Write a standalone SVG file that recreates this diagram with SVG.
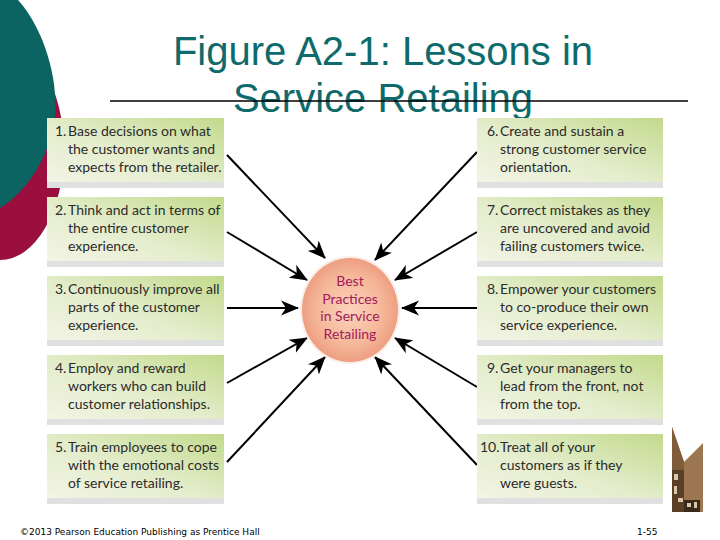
<svg xmlns="http://www.w3.org/2000/svg" width="720" height="540" viewBox="0 0 720 540">
<defs>
<linearGradient id="boxg" x1="0" y1="1" x2="1" y2="0">
<stop offset="0" stop-color="#f3f4e6"/>
<stop offset="0.45" stop-color="#e4edcc"/>
<stop offset="1" stop-color="#c2da8c"/>
</linearGradient>
<radialGradient id="ball" cx="0.5" cy="0.5" r="0.55">
<stop offset="0" stop-color="#fbd3bd"/>
<stop offset="0.6" stop-color="#f6b89a"/>
<stop offset="1" stop-color="#eb977a"/>
</radialGradient>
<marker id="ah" markerUnits="userSpaceOnUse" markerWidth="20" markerHeight="16" refX="17" refY="8" orient="auto">
<path d="M0,0.5 L18,8 L0,15.5 L5,8 Z" fill="#000"/>
</marker>
</defs>
<style>
.box{fill:url(#boxg)}
.shd{fill:#e0e0e0}
.t{font-family:Lato,"Open Sans","Liberation Sans",sans-serif;font-size:14px;fill:#2b2b2b}
.c{font-family:Lato,"Open Sans","Liberation Sans",sans-serif;font-size:14px;fill:#a3195b;text-anchor:middle}
.title{font-family:"Liberation Sans",Arial,sans-serif;font-size:40px;fill:#0f6b6b;text-anchor:middle}
.foot{font-family:"DejaVu Sans","Liberation Sans",sans-serif;font-size:9px;fill:#000}
.arr{stroke:#000;stroke-width:2;fill:none;marker-end:url(#ah)}
</style>
<rect width="720" height="540" fill="#fff"/>
<g id="decor">
<ellipse cx="0" cy="150" rx="64" ry="110" fill="#9a0f3e"/>
<path d="M0,0 L18,0 C45,30 58,80 55,115 C52,150 30,190 0,208 Z" fill="#0b6462"/>
</g>
<g id="title">
<text class="title" x="383" y="65">Figure A2-1: Lessons in</text>
<text class="title" x="383" y="112">Service Retailing</text>
<line x1="110" y1="101" x2="688" y2="101" stroke="#000" stroke-width="1.5"/>
</g>
<g id="crate">
<polygon points="672,427 684,462 703,443 703,512 672,512" fill="#9b7650"/>
<polygon points="672,427 684,462 684,512 672,512" fill="#7f5d3a"/>
<rect x="672" y="470" width="12" height="42" fill="#5a3f26"/>
<rect x="674" y="474" width="4" height="6" fill="#d9c8a8"/>
<rect x="674" y="486" width="3" height="8" fill="#d9c8a8"/>
<rect x="678" y="498" width="5" height="4" fill="#d9c8a8"/>
<rect x="684" y="500" width="16" height="12" fill="#3a2a1a"/>
<rect x="687" y="503" width="4" height="4" fill="#d9c8a8"/>
<rect x="694" y="502" width="3" height="6" fill="#d9c8a8"/>
</g>
<g id="connectors">
<line class="arr" x1="227" y1="155" x2="325" y2="258"/>
<line class="arr" x1="227" y1="232" x2="307" y2="280"/>
<line class="arr" x1="227" y1="308" x2="298" y2="308"/>
<line class="arr" x1="227" y1="383" x2="307" y2="338"/>
<line class="arr" x1="227" y1="462" x2="325" y2="357"/>
<line class="arr" x1="477" y1="152" x2="375" y2="260"/>
<line class="arr" x1="477" y1="232" x2="395" y2="280"/>
<line class="arr" x1="477" y1="308" x2="402" y2="308"/>
<line class="arr" x1="477" y1="387" x2="395" y2="338"/>
<line class="arr" x1="477" y1="465" x2="375" y2="357"/>
</g>
<g id="center">
<ellipse cx="350" cy="310" rx="50" ry="54" fill="#fbeee8"/>
<ellipse cx="350" cy="310" rx="48" ry="52" fill="url(#ball)"/>
<text class="c" x="350" y="286">Best</text>
<text class="c" x="350" y="304">Practices</text>
<text class="c" x="350" y="321">in Service</text>
<text class="c" x="350" y="339">Retailing</text>
</g>
<g id="n1">
<rect class="shd" x="47" y="124" width="177" height="64"/>
<rect class="box" x="47" y="118" width="177" height="64"/>
<text class="t" x="55" y="136">1.</text>
<text class="t" x="68" y="136">Base decisions on what</text>
<text class="t" x="68" y="154">the customer wants and</text>
<text class="t" x="68" y="172">expects from the retailer.</text>
</g>
<g id="n2">
<rect class="shd" x="47" y="203" width="177" height="64"/>
<rect class="box" x="47" y="197" width="177" height="64"/>
<text class="t" x="55" y="215">2.</text>
<text class="t" x="68" y="215">Think and act in terms of</text>
<text class="t" x="68" y="233">the entire customer</text>
<text class="t" x="68" y="251">experience.</text>
</g>
<g id="n3">
<rect class="shd" x="47" y="282" width="177" height="64"/>
<rect class="box" x="47" y="276" width="177" height="64"/>
<text class="t" x="55" y="294">3.</text>
<text class="t" x="68" y="294">Continuously improve all</text>
<text class="t" x="68" y="312">parts of the customer</text>
<text class="t" x="68" y="330">experience.</text>
</g>
<g id="n4">
<rect class="shd" x="47" y="361" width="177" height="64"/>
<rect class="box" x="47" y="355" width="177" height="64"/>
<text class="t" x="55" y="373">4.</text>
<text class="t" x="68" y="373">Employ and reward</text>
<text class="t" x="68" y="391">workers who can build</text>
<text class="t" x="68" y="409">customer relationships.</text>
</g>
<g id="n5">
<rect class="shd" x="47" y="440" width="177" height="64"/>
<rect class="box" x="47" y="434" width="177" height="64"/>
<text class="t" x="55" y="452">5.</text>
<text class="t" x="68" y="452">Train employees to cope</text>
<text class="t" x="68" y="470">with the emotional costs</text>
<text class="t" x="68" y="488">of service retailing.</text>
</g>
<g id="n6">
<rect class="shd" x="477" y="124" width="186" height="64"/>
<rect class="box" x="477" y="118" width="186" height="64"/>
<text class="t" x="487" y="136">6.</text>
<text class="t" x="500" y="136">Create and sustain a</text>
<text class="t" x="500" y="154">strong customer service</text>
<text class="t" x="500" y="172">orientation.</text>
</g>
<g id="n7">
<rect class="shd" x="477" y="203" width="186" height="64"/>
<rect class="box" x="477" y="197" width="186" height="64"/>
<text class="t" x="487" y="215">7.</text>
<text class="t" x="500" y="215">Correct mistakes as they</text>
<text class="t" x="500" y="233">are uncovered and avoid</text>
<text class="t" x="500" y="251">failing customers twice.</text>
</g>
<g id="n8">
<rect class="shd" x="477" y="282" width="186" height="64"/>
<rect class="box" x="477" y="276" width="186" height="64"/>
<text class="t" x="487" y="294">8.</text>
<text class="t" x="500" y="294">Empower your customers</text>
<text class="t" x="500" y="312">to co-produce their own</text>
<text class="t" x="500" y="330">service experience.</text>
</g>
<g id="n9">
<rect class="shd" x="477" y="361" width="186" height="64"/>
<rect class="box" x="477" y="355" width="186" height="64"/>
<text class="t" x="487" y="373">9.</text>
<text class="t" x="500" y="373">Get your managers to</text>
<text class="t" x="500" y="391">lead from the front, not</text>
<text class="t" x="500" y="409">from the top.</text>
</g>
<g id="n10">
<rect class="shd" x="477" y="440" width="186" height="64"/>
<rect class="box" x="477" y="434" width="186" height="64"/>
<text class="t" x="480" y="452">10.</text>
<text class="t" x="500" y="452">Treat all of your</text>
<text class="t" x="500" y="470">customers as if they</text>
<text class="t" x="500" y="488">were guests.</text>
</g>
<g id="footer">
<text class="foot" x="20" y="535">©2013 Pearson Education Publishing as Prentice Hall</text>
<text class="foot" x="637" y="535">1-55</text>
</g>
</svg>
